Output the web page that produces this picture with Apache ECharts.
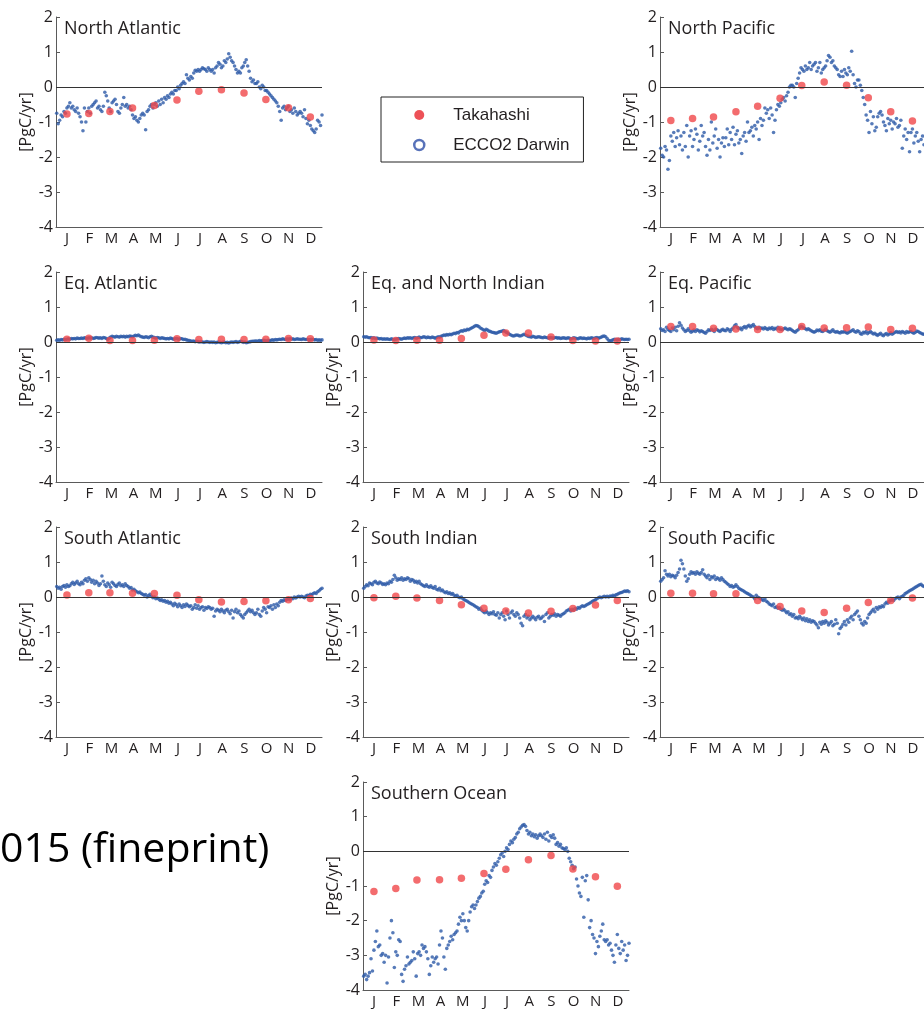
<!DOCTYPE html>
<html>
<head>
<meta charset="utf-8">
<script src="https://cdn.jsdelivr.net/npm/echarts@6/dist/echarts.min.js"></script>
<style>
  html, body { margin: 0; padding: 0; background: #fff; }
  #chart { width: 924px; height: 1009px; }
</style>
</head>
<body>
<div id="chart"></div>
<script>
// month tick labels and mid-month days used for the Takahashi climatology
const months = ['J', 'F', 'M', 'A', 'M', 'J', 'J', 'A', 'S', 'O', 'N', 'D']
const midMonthDays = [15, 45, 74, 105, 135, 166, 196, 227, 258, 288, 319, 349]
// ECCO2 Darwin values are read every 2nd day, starting on day 1 (one row per month)
const eccoStepDays = 2

const northAtlantic = [
  -0.75, -1.05, -0.95, -0.8, -0.85, -0.7, -0.75, -0.6, -0.55, -0.45, -0.6, -0.55, -0.65, -0.7, -0.6, -0.75,
  -0.85, -1.0, -1.25, -0.6, -1.0, -0.7, -0.6, -0.75, -0.55, -0.5, -0.45, -0.4, -0.6, -0.55,
  -0.65, -0.7, -0.55, -0.15, -0.25, -0.4, -0.6, -0.7, -0.45, -0.4, -0.35, -0.5, -0.7, -0.75, -0.6,
  -0.5, -0.3, -0.55, -0.5, -0.6, -0.55, -0.65, -0.8, -0.9, -0.85, -0.95, -1.0, -0.9, -0.8, -0.75,
  -0.8, -1.22, -0.7, -0.65, -0.55, -0.5, -0.6, -0.5, -0.45, -0.55, -0.4, -0.5, -0.35, -0.45, -0.3, -0.35,
  -0.25, -0.3, -0.2, -0.15, -0.2, -0.1, -0.1, 0.0, -0.05, 0.05, 0.1, 0.15, 0.1, 0.35, 0.25,
  0.2, 0.3, 0.25, 0.4, 0.48, 0.45, 0.5, 0.45, 0.5, 0.55, 0.52, 0.5, 0.45, 0.55, 0.5,
  0.45, 0.5, 0.4, 0.55, 0.6, 0.7, 0.65, 0.55, 0.6, 0.75, 0.7, 0.8, 0.95, 0.85, 0.75, 0.7,
  0.6, 0.5, 0.4, 0.45, 0.4, 0.55, 0.6, 0.7, 0.78, 0.6, 0.45, 0.25, 0.15, 0.2, 0.1,
  0.1, 0.15, 0.0, -0.05, 0.05, 0.0, -0.1, -0.1, -0.15, -0.2, -0.25, -0.3, -0.35, -0.4, -0.45,
  -0.55, -0.7, -0.95, -0.6, -0.55, -0.65, -0.6, -0.55, -0.7, -0.65, -0.75, -0.6, -0.7, -0.8, -0.75,
  -0.7, -0.75, -0.85, -0.65, -0.9, -1.05, -0.95, -1.1, -1.2, -1.25, -1.3, -1.2, -0.95, -1.0, -1.1, -0.8,
]
const northAtlanticTak = [-0.77, -0.76, -0.7, -0.6, -0.53, -0.37, -0.12, -0.08, -0.17, -0.36, -0.59, -0.86]

const northPacific = [
  -1.75, -1.95, -2.0, -1.7, -1.8, -2.35, -2.1, -1.4, -1.55, -1.3, -1.7, -1.45, -1.25, -1.65, -1.4, -1.8,
  -1.3, -1.7, -1.1, -2.0, -1.4, -1.25, -1.7, -1.5, -1.2, -1.35, -1.8, -1.55, -1.1, -1.4,
  -1.3, -1.7, -1.95, -1.5, -1.8, -1.0, -1.6, -1.4, -1.2, -1.75, -1.5, -2.0, -1.6, -1.45, -1.7,
  -1.45, -1.2, -1.65, -1.3, -1.5, -1.15, -1.65, -1.35, -1.25, -1.6, -1.5, -1.9, -1.4, -1.3, -1.55,
  -1.0, -1.3, -1.25, -1.15, -1.4, -1.1, -1.2, -1.0, -1.5, -0.9, -1.1, -0.95, -0.6, -0.75, -0.65, -0.9,
  -0.6, -0.8, -1.3, -0.95, -0.65, -0.5, -0.55, -0.45, -0.35, -0.3, -0.4, -0.25, -0.15, 0.0, 0.05,
  0.05, 0.0, -0.3, 0.1, 0.25, 0.4, 0.55, 0.5, 0.45, 0.6, 0.5, 0.55, 0.7, 0.5, 0.6,
  0.65, 0.7, 0.45, 0.55, 0.7, 0.4, 0.5, 0.55, 0.6, 0.75, 0.9, 0.85, 0.7, 0.75, 0.6, 0.55,
  0.5, 0.35, 0.3, 0.45, 0.3, 0.5, 0.4, 0.35, 0.55, 0.45, 1.02, 0.35, 0.1, 0.0, 0.2,
  0.2, 0.05, -0.1, -0.3, -0.5, -0.8, -0.95, -1.3, -0.7, -1.05, -0.85, -1.25, -1.15, -0.85, -0.75,
  -0.7, -0.8, -1.0, -1.1, -1.25, -0.9, -1.05, -0.95, -1.2, -1.0, -1.05, -0.9, -1.15, -1.1, -0.95,
  -1.75, -1.4, -1.2, -1.5, -1.3, -1.85, -1.3, -1.2, -1.6, -1.4, -1.3, -1.55, -1.85, -1.5, -1.4, -1.65,
]
const northPacificTak = [-0.96, -0.9, -0.86, -0.71, -0.55, -0.32, 0.04, 0.14, 0.05, -0.31, -0.71, -0.97]

const eqAtlantic = [
  0.05, 0.06, 0.05, 0.07, 0.06, 0.08, 0.07, 0.08, 0.09, 0.08, 0.1, 0.09, 0.1, 0.09, 0.11, 0.1,
  0.1, 0.11, 0.1, 0.12, 0.11, 0.1, 0.12, 0.11, 0.12, 0.1, 0.11, 0.13, 0.12, 0.11,
  0.12, 0.1, 0.13, 0.12, 0.1, 0.08, 0.11, 0.14, 0.16, 0.15, 0.14, 0.16, 0.15, 0.14, 0.16,
  0.15, 0.16, 0.14, 0.16, 0.15, 0.17, 0.16, 0.15, 0.17, 0.19, 0.18, 0.2, 0.17, 0.15, 0.14,
  0.13, 0.15, 0.14, 0.12, 0.15, 0.16, 0.14, 0.13, 0.11, 0.13, 0.12, 0.1, 0.12, 0.11, 0.1, 0.09,
  0.1, 0.09, 0.11, 0.1, 0.08, 0.09, 0.1, 0.09, 0.08, 0.1, 0.09, 0.07, 0.08, 0.06, 0.05,
  0.04, 0.03, 0.02, 0.03, 0.01, 0.02, 0.01, 0.0, 0.01, 0.0, -0.01, 0.0, 0.01, 0.0, -0.01,
  0.0, -0.01, 0.0, -0.02, -0.01, 0.0, -0.01, -0.02, -0.01, 0.0, -0.02, -0.01, -0.03, -0.01, 0.0, -0.01,
  0.0, 0.01, -0.01, 0.0, 0.02, 0.01, -0.01, 0.0, -0.02, -0.01, 0.0, 0.01, 0.02, 0.02, 0.03,
  0.03, 0.02, 0.04, 0.03, 0.04, 0.05, 0.04, 0.03, 0.05, 0.04, 0.05, 0.06, 0.05, 0.07, 0.06,
  0.07, 0.08, 0.07, 0.09, 0.08, 0.07, 0.09, 0.08, 0.1, 0.08, 0.09, 0.07, 0.08, 0.09, 0.08,
  0.08, 0.07, 0.09, 0.08, 0.07, 0.08, 0.06, 0.07, 0.08, 0.07, 0.06, 0.07, 0.05, 0.06, 0.05, 0.06,
]
const eqAtlanticTak = [0.08, 0.11, 0.04, 0.04, 0.05, 0.09, 0.07, 0.08, 0.07, 0.08, 0.1, 0.09]

const eqNorthIndian = [
  0.15, 0.14, 0.15, 0.13, 0.12, 0.13, 0.11, 0.12, 0.1, 0.11, 0.1, 0.09, 0.1, 0.08, 0.09, 0.08,
  0.09, 0.08, 0.07, 0.09, 0.08, 0.07, 0.08, 0.09, 0.1, 0.09, 0.08, 0.1, 0.11, 0.1,
  0.12, 0.11, 0.12, 0.1, 0.12, 0.13, 0.11, 0.12, 0.14, 0.12, 0.13, 0.15, 0.14, 0.12, 0.14,
  0.13, 0.12, 0.14, 0.13, 0.11, 0.13, 0.15, 0.14, 0.16, 0.18, 0.2, 0.19, 0.21, 0.2, 0.22,
  0.21, 0.23, 0.25, 0.24, 0.27, 0.26, 0.3, 0.32, 0.31, 0.34, 0.33, 0.36, 0.35, 0.38, 0.4, 0.42,
  0.45, 0.47, 0.46, 0.44, 0.4, 0.38, 0.35, 0.33, 0.36, 0.34, 0.31, 0.3, 0.28, 0.27, 0.26,
  0.25, 0.27, 0.29, 0.3, 0.31, 0.33, 0.3, 0.27, 0.25, 0.22, 0.2, 0.18, 0.17, 0.19, 0.2,
  0.19, 0.17, 0.18, 0.2, 0.22, 0.2, 0.18, 0.16, 0.15, 0.14, 0.16, 0.15, 0.13, 0.14, 0.15, 0.14,
  0.13, 0.12, 0.14, 0.13, 0.12, 0.11, 0.13, 0.12, 0.11, 0.12, 0.13, 0.11, 0.12, 0.1, 0.11,
  0.12, 0.11, 0.1, 0.12, 0.11, 0.09, 0.1, 0.12, 0.11, 0.1, 0.09, 0.11, 0.12, 0.1, 0.11,
  0.1, 0.09, 0.11, 0.1, 0.12, 0.11, 0.1, 0.12, 0.13, 0.11, 0.12, 0.14, 0.16, 0.17, 0.15,
  0.1, 0.05, 0.03, 0.04, 0.06, 0.08, 0.07, 0.06, 0.08, 0.07, 0.09, 0.08, 0.07, 0.08, 0.07, 0.08,
]
const eqNorthIndianTak = [0.06, 0.04, 0.05, 0.05, 0.1, 0.19, 0.26, 0.26, 0.14, 0.04, 0.03, 0.03]

const eqPacific = [
  0.38, 0.33, 0.35, 0.3, 0.42, 0.36, 0.33, 0.3, 0.4, 0.35, 0.42, 0.32, 0.45, 0.55, 0.48, 0.4,
  0.35, 0.3, 0.33, 0.38, 0.32, 0.28, 0.31, 0.34, 0.3, 0.35, 0.33, 0.29, 0.32, 0.3,
  0.27, 0.25, 0.3, 0.35, 0.33, 0.36, 0.34, 0.3, 0.37, 0.35, 0.32, 0.3, 0.34, 0.36, 0.33,
  0.32, 0.38, 0.35, 0.3, 0.36, 0.4, 0.46, 0.5, 0.42, 0.38, 0.4, 0.35, 0.41, 0.44, 0.4,
  0.45, 0.48, 0.43, 0.46, 0.5, 0.44, 0.4, 0.38, 0.42, 0.39, 0.4, 0.37, 0.41, 0.38, 0.36, 0.4,
  0.38, 0.41, 0.36, 0.39, 0.37, 0.42, 0.38, 0.36, 0.35, 0.38, 0.4, 0.37, 0.35, 0.38, 0.36,
  0.33, 0.3, 0.28, 0.32, 0.35, 0.4, 0.45, 0.43, 0.4, 0.38, 0.35, 0.38, 0.35, 0.32, 0.3,
  0.28, 0.3, 0.34, 0.32, 0.35, 0.31, 0.3, 0.33, 0.36, 0.32, 0.3, 0.28, 0.31, 0.35, 0.3, 0.28,
  0.3, 0.27, 0.26, 0.29, 0.28, 0.3, 0.27, 0.25, 0.28, 0.3, 0.32, 0.35, 0.3, 0.28, 0.32,
  0.3, 0.24, 0.22, 0.28, 0.26, 0.3, 0.24, 0.27, 0.3, 0.26, 0.23, 0.25, 0.21, 0.19, 0.22,
  0.25, 0.2, 0.18, 0.22, 0.24, 0.2, 0.23, 0.26, 0.22, 0.25, 0.28, 0.3, 0.27, 0.29, 0.26,
  0.3, 0.28, 0.25, 0.3, 0.27, 0.29, 0.3, 0.27, 0.25, 0.28, 0.31, 0.3, 0.27, 0.25, 0.23, 0.22,
]
const eqPacificTak = [0.44, 0.44, 0.39, 0.37, 0.36, 0.36, 0.44, 0.4, 0.41, 0.43, 0.36, 0.39]

const southAtlantic = [
  0.3, 0.25, 0.28, 0.22, 0.3, 0.33, 0.28, 0.35, 0.3, 0.32, 0.38, 0.42, 0.36, 0.4, 0.45, 0.38,
  0.35, 0.42, 0.38, 0.48, 0.52, 0.45, 0.55, 0.5, 0.42, 0.48, 0.38, 0.45, 0.4, 0.33,
  0.38, 0.6, 0.45, 0.35, 0.3, 0.4, 0.35, 0.28, 0.42, 0.38, 0.33, 0.3, 0.36, 0.4, 0.32,
  0.35, 0.3, 0.38, 0.33, 0.3, 0.25, 0.27, 0.2, 0.22, 0.18, 0.15, 0.12, 0.14, 0.1, 0.08,
  0.05, 0.07, 0.0, 0.04, 0.08, 0.02, -0.02, 0.0, -0.05, -0.03, -0.06, -0.1, -0.08, -0.12, -0.1, -0.15,
  -0.12, -0.18, -0.15, -0.2, -0.25, -0.18, -0.22, -0.28, -0.2, -0.25, -0.3, -0.22, -0.27, -0.2, -0.24,
  -0.28, -0.25, -0.35, -0.3, -0.22, -0.32, -0.25, -0.35, -0.3, -0.28, -0.38, -0.3, -0.33, -0.28, -0.3,
  -0.35, -0.32, -0.55, -0.4, -0.35, -0.38, -0.42, -0.35, -0.4, -0.45, -0.38, -0.35, -0.42, -0.48, -0.38, -0.6,
  -0.42, -0.35, -0.45, -0.4, -0.5, -0.55, -0.6, -0.5, -0.45, -0.4, -0.35, -0.42, -0.38, -0.45, -0.5,
  -0.45, -0.35, -0.5, -0.55, -0.4, -0.3, -0.35, -0.45, -0.28, -0.3, -0.25, -0.35, -0.22, -0.3, -0.2,
  -0.25, -0.15, -0.1, -0.12, -0.08, -0.1, -0.07, -0.05, -0.08, -0.03, -0.05, 0.0, -0.03, 0.0, 0.02,
  0.0, 0.02, 0.0, -0.02, 0.03, 0.05, 0.04, 0.08, 0.06, 0.1, 0.12, 0.1, 0.15, 0.18, 0.22, 0.25,
]
const southAtlanticTak = [0.06, 0.12, 0.12, 0.11, 0.1, 0.05, -0.08, -0.14, -0.13, -0.11, -0.08, -0.04]

const southIndian = [
  0.25, 0.3, 0.35, 0.32, 0.4, 0.38, 0.35, 0.42, 0.45, 0.4, 0.38, 0.43, 0.4, 0.36, 0.38, 0.35,
  0.4, 0.38, 0.45, 0.42, 0.5, 0.62, 0.55, 0.48, 0.52, 0.5, 0.55, 0.48, 0.52, 0.5,
  0.55, 0.52, 0.45, 0.5, 0.48, 0.42, 0.45, 0.4, 0.45, 0.38, 0.35, 0.32, 0.3, 0.35, 0.3,
  0.28, 0.32, 0.27, 0.25, 0.3, 0.22, 0.2, 0.25, 0.18, 0.2, 0.15, 0.12, 0.15, 0.1, 0.12,
  0.08, 0.1, 0.05, 0.03, 0.05, 0.0, -0.02, 0.0, -0.05, -0.08, -0.1, -0.12, -0.15, -0.18, -0.2, -0.22,
  -0.25, -0.28, -0.3, -0.35, -0.32, -0.38, -0.42, -0.45, -0.4, -0.45, -0.5, -0.45, -0.48, -0.42, -0.5,
  -0.52, -0.45, -0.6, -0.5, -0.45, -0.55, -0.65, -0.4, -0.5, -0.6, -0.45, -0.4, -0.5, -0.55, -0.45,
  -0.5, -0.6, -0.75, -0.82, -0.55, -0.5, -0.6, -0.55, -0.65, -0.6, -0.55, -0.6, -0.65, -0.58, -0.55, -0.62,
  -0.6, -0.55, -0.7, -0.5, -0.45, -0.6, -0.55, -0.5, -0.52, -0.48, -0.55, -0.5, -0.52, -0.55, -0.5,
  -0.48, -0.45, -0.4, -0.38, -0.35, -0.4, -0.35, -0.38, -0.33, -0.35, -0.3, -0.32, -0.28, -0.25, -0.27,
  -0.25, -0.22, -0.2, -0.18, -0.15, -0.12, -0.1, -0.08, -0.05, -0.02, 0.0, -0.02, 0.0, 0.02, 0.0,
  0.02, 0.0, 0.03, 0.02, 0.05, 0.03, 0.06, 0.08, 0.1, 0.12, 0.13, 0.15, 0.17, 0.16, 0.18, 0.15,
]
const southIndianTak = [-0.02, 0.02, -0.03, -0.1, -0.22, -0.32, -0.4, -0.46, -0.41, -0.33, -0.23, -0.1]

const southPacific = [
  0.45, 0.5, 0.55, 0.75, 0.65, 0.6, 0.65, 0.58, 0.62, 0.6, 0.55, 0.62, 0.7, 0.8, 1.05, 0.95,
  0.8, 0.6, 0.45, 0.52, 0.65, 0.72, 0.68, 0.7, 0.65, 0.72, 0.68, 0.65, 0.7, 0.78,
  0.65, 0.6, 0.55, 0.62, 0.5, 0.58, 0.55, 0.6, 0.5, 0.55, 0.52, 0.48, 0.55, 0.5, 0.45,
  0.42, 0.38, 0.35, 0.3, 0.33, 0.28, 0.3, 0.35, 0.3, 0.25, 0.22, 0.2, 0.18, 0.15, 0.12,
  0.1, 0.08, 0.05, 0.02, 0.0, -0.05, 0.05, 0.0, -0.02, -0.05, -0.08, -0.1, -0.05, -0.12, -0.15, -0.2,
  -0.22, -0.25, -0.2, -0.3, -0.28, -0.32, -0.3, -0.35, -0.38, -0.35, -0.4, -0.45, -0.42, -0.5, -0.48,
  -0.55, -0.5, -0.6, -0.58, -0.62, -0.55, -0.6, -0.65, -0.6, -0.68, -0.62, -0.7, -0.65, -0.72, -0.68,
  -0.7, -0.75, -0.8, -0.88, -0.72, -0.78, -0.7, -0.75, -0.68, -0.72, -0.8, -0.75, -0.7, -0.82, -0.78, -0.65,
  -0.75, -1.05, -0.9, -0.85, -0.78, -0.7, -0.8, -0.65, -0.72, -0.6, -0.55, -0.65, -0.5, -0.45, -0.4,
  -0.55, -0.65, -0.75, -0.8, -0.7, -0.75, -0.6, -0.5, -0.45, -0.4, -0.35, -0.42, -0.3, -0.35, -0.28,
  -0.3, -0.25, -0.28, -0.2, -0.15, -0.18, -0.12, -0.1, -0.08, -0.1, -0.05, -0.02, 0.0, -0.05, 0.0,
  0.02, 0.05, 0.1, 0.12, 0.15, 0.18, 0.2, 0.22, 0.25, 0.28, 0.3, 0.33, 0.35, 0.36, 0.32, 0.3,
]
const southPacificTak = [0.11, 0.11, 0.09, 0.09, -0.1, -0.27, -0.4, -0.44, -0.32, -0.16, -0.1, -0.03]

const southernOcean = [
  -3.6, -3.55, -3.7, -3.6, -3.5, -3.1, -3.45, -2.85, -2.6, -2.3, -2.75, -2.7, -3.0, -2.95, -3.2, -3.0,
  -3.8, -3.05, -2.5, -2.0, -2.35, -3.35, -2.9, -3.0, -2.55, -2.6, -3.55, -3.75, -3.4, -3.3,
  -3.05, -3.25, -3.2, -3.15, -2.9, -3.1, -3.6, -2.95, -2.9, -3.0, -2.7, -2.8, -2.75, -2.9, -3.1,
  -3.55, -3.3, -3.05, -3.2, -3.1, -3.05, -3.25, -2.7, -2.3, -2.5, -3.05, -3.4, -2.8, -2.7, -2.6,
  -2.45, -2.55, -2.4, -2.35, -2.3, -2.1, -1.9, -2.0, -1.8, -2.0, -2.2, -2.3, -2.0, -1.75, -1.6, -1.55,
  -1.65, -1.55, -1.45, -1.35, -1.3, -1.2, -1.15, -0.95, -0.85, -0.9, -0.7, -0.75, -0.55, -0.45, -0.35,
  -0.4, -0.3, -0.2, -0.1, -0.05, -0.15, 0.0, 0.1, 0.05, 0.2, 0.3, 0.25, 0.35, 0.4, 0.5,
  0.55, 0.65, 0.7, 0.75, 0.77, 0.72, 0.6, 0.5, 0.55, 0.45, 0.5, 0.42, 0.48, 0.38, 0.45, 0.5,
  0.45, 0.4, 0.5, 0.35, 0.55, 0.3, 0.45, 0.4, 0.48, 0.38, 0.2, 0.25, 0.15, 0.2, 0.1,
  0.08, 0.05, 0.1, 0.0, -0.2, -0.3, -0.4, -0.5, -0.45, -0.8, -1.0, -1.2, -1.3, -0.75, -1.9,
  -0.85, -0.7, -1.4, -2.2, -2.0, -2.4, -2.5, -2.95, -2.6, -2.75, -2.45, -2.3, -2.1, -2.55, -2.6,
  -2.55, -2.7, -2.65, -2.85, -3.0, -3.2, -2.7, -2.4, -2.8, -2.95, -2.6, -2.85, -2.7, -3.15, -3.0, -2.65,
]
const southernOceanTak = [-1.16, -1.07, -0.83, -0.82, -0.78, -0.64, -0.52, -0.24, -0.12, -0.51, -0.73, -1.01]

// panel layout: col/row in the 3x4 grid of plots
const panels = [
  { title: 'North Atlantic', ecco: northAtlantic, tak: northAtlanticTak, col: 0, row: 0 },
  { title: 'North Pacific', ecco: northPacific, tak: northPacificTak, col: 2, row: 0 },
  { title: 'Eq. Atlantic', ecco: eqAtlantic, tak: eqAtlanticTak, col: 0, row: 1 },
  { title: 'Eq. and North Indian', ecco: eqNorthIndian, tak: eqNorthIndianTak, col: 1, row: 1 },
  { title: 'Eq. Pacific', ecco: eqPacific, tak: eqPacificTak, col: 2, row: 1 },
  { title: 'South Atlantic', ecco: southAtlantic, tak: southAtlanticTak, col: 0, row: 2 },
  { title: 'South Indian', ecco: southIndian, tak: southIndianTak, col: 1, row: 2 },
  { title: 'South Pacific', ecco: southPacific, tak: southPacificTak, col: 2, row: 2 },
  { title: 'Southern Ocean', ecco: southernOcean, tak: southernOceanTak, col: 1, row: 3 },
]

const colLeft = [56, 363, 660]
const rowTop = [17, 272, 527, 782]
const plotW = 266
const plotH = 210

const font = '"Open Sans", sans-serif'
const textColor = '#231f20'
const axisColor = '#5a5a5a'
const blue = '#2d5aa8'
const red = '#f0474a'

const grid = []
const xAxis = []
const yAxis = []
const series = []
const title = []

panels.forEach((p, k) => {
  const left = colLeft[p.col]
  const top = rowTop[p.row]
  grid.push({ left, top, width: plotW, height: plotH })

  // visible month axis (ticks on month boundaries, labels mid-month)
  xAxis.push({
    type: 'category',
    gridIndex: k,
    data: months,
    boundaryGap: true,
    axisLine: { onZero: false, lineStyle: { color: axisColor, width: 1 } },
    axisTick: { inside: true, length: 5, interval: 0, lineStyle: { color: axisColor } },
    axisLabel: { interval: 0, margin: 4, color: textColor, fontSize: 15, fontFamily: font },
    splitLine: { show: false },
  })
  // hidden day-of-year axis the data is plotted on
  xAxis.push({ type: 'value', gridIndex: k, min: 0, max: 365, show: false })

  yAxis.push({
    type: 'value',
    gridIndex: k,
    min: -4,
    max: 2,
    interval: 1,
    name: '[PgC/yr]',
    nameLocation: 'middle',
    nameGap: 22,
    nameTextStyle: { color: textColor, fontSize: 16, fontFamily: font },
    axisLine: { show: true, onZero: false, lineStyle: { color: axisColor, width: 1 } },
    axisTick: { show: true, inside: true, length: 4, lineStyle: { color: axisColor } },
    axisLabel: { margin: 3, color: textColor, fontSize: 16, fontFamily: font },
    splitLine: { show: false },
  })

  series.push({
    type: 'scatter',
    name: 'ECCO2 Darwin',
    xAxisIndex: 2 * k + 1,
    yAxisIndex: k,
    symbolSize: 3.6,
    itemStyle: { color: blue },
    data: p.ecco.map((v, i) => [1 + i * eccoStepDays, v]),
    markLine: {
      silent: true,
      symbol: 'none',
      label: { show: false },
      lineStyle: { color: '#333', width: 1, type: 'solid' },
      data: [{ yAxis: 0 }],
    },
  })
  series.push({
    type: 'scatter',
    name: 'Takahashi',
    xAxisIndex: 2 * k + 1,
    yAxisIndex: k,
    symbolSize: 7.5,
    itemStyle: { color: red },
    data: p.tak.map((v, i) => [midMonthDays[i], v]),
  })

  title.push({
    text: p.title,
    left: left + 8,
    top: top + 3,
    padding: 0,
    textStyle: { color: textColor, fontSize: 18, fontWeight: 'normal', fontFamily: font },
  })
})

const chart = echarts.init(document.getElementById('chart'))
chart.setOption({
  animation: false,
  backgroundColor: '#fff',
  title,
  grid,
  xAxis,
  yAxis,
  series,
  legend: {
    orient: 'vertical',
    left: 381,
    top: 97,
    padding: [8, 14, 7, 32],
    itemWidth: 10,
    itemHeight: 10,
    itemGap: 10,
    borderColor: '#222',
    borderWidth: 1,
    selectedMode: false,
    textStyle: {
      fontFamily: '"Liberation Sans", Arial, sans-serif',
      fontSize: 17,
      color: textColor,
      lineHeight: 20,
      padding: [0, 0, 0, 24],
    },
    data: [
      { name: 'Takahashi', icon: 'circle', itemStyle: { color: '#e8262d', borderWidth: 0 } },
      { name: 'ECCO2 Darwin', icon: 'circle', itemStyle: { color: '#fff', borderColor: '#2e4fa8', borderWidth: 2.5 } },
    ],
  },
  graphic: [
    {
      type: 'text',
      x: 0,
      y: 850,
      style: {
        text: '015 (fineprint)',
        font: '41px "Open Sans", sans-serif',
        fill: '#000',
        verticalAlign: 'middle',
      },
    },
  ],
})
</script>
</body>
</html>
